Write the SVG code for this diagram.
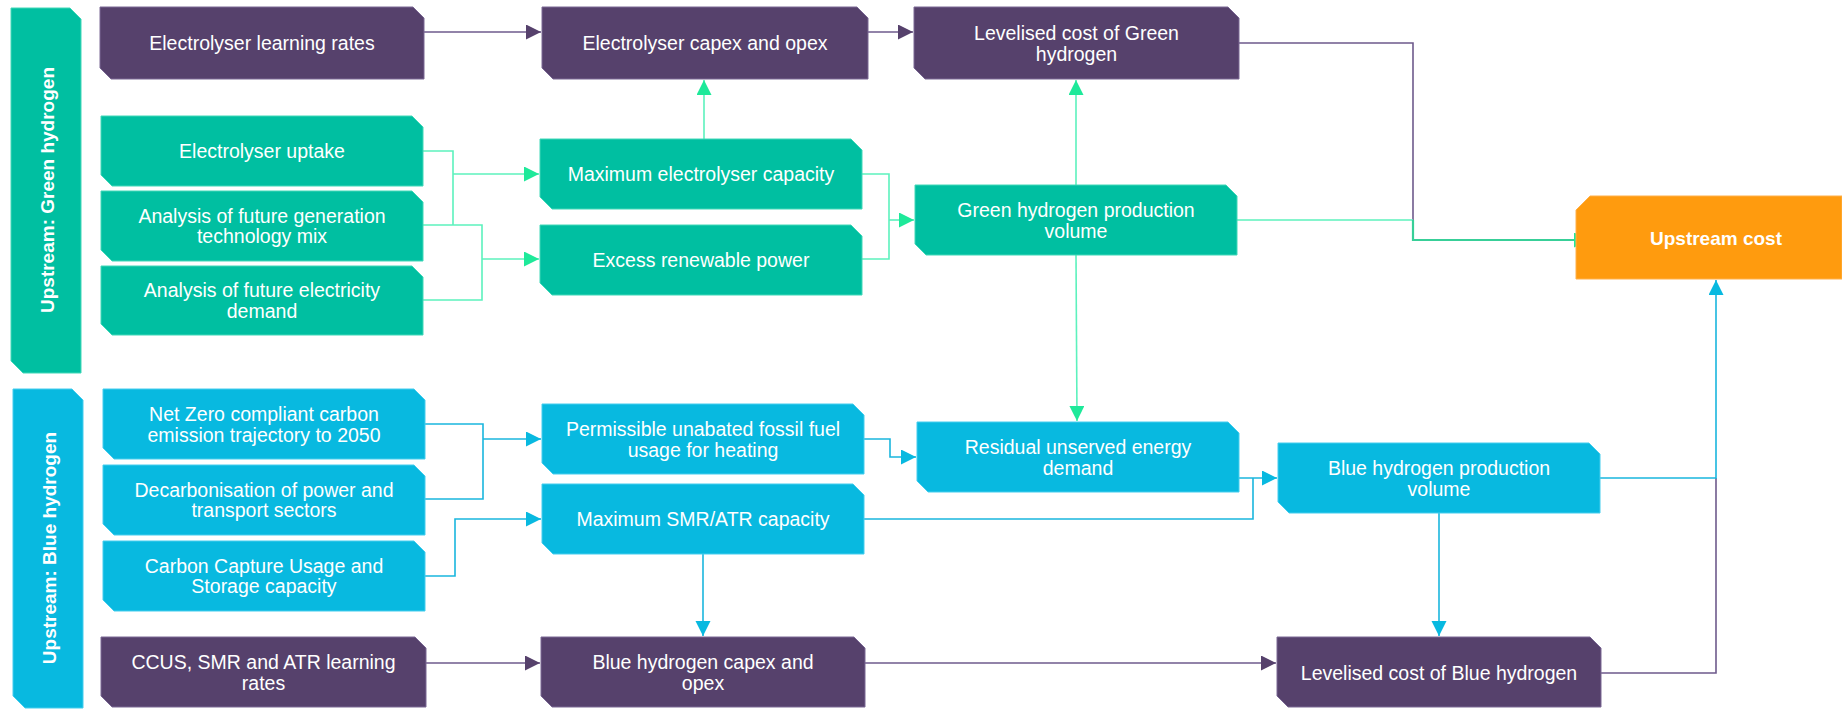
<svg xmlns="http://www.w3.org/2000/svg" width="1842" height="709" viewBox="0 0 1842 709">
<style>
.p{fill:#56416c;stroke:#7a6894;stroke-width:1}
.g{fill:#00bfa1;stroke:#40d8b8;stroke-width:1}
.b{fill:#08b9e0;stroke:#45cdee;stroke-width:1}
.o{fill:#ff9b0e;stroke:#ffb04a;stroke-width:1}
.t{font-family:"Liberation Sans",Arial,sans-serif;font-size:19.5px;fill:#ffffff;text-anchor:middle}
.tb{font-family:"Liberation Sans",Arial,sans-serif;font-size:19px;font-weight:bold;fill:#ffffff;text-anchor:middle}
.lp{fill:none;stroke:#6e5a8c;stroke-width:1.6}
.lg{fill:none;stroke:#5cf2bd;stroke-width:1.6}
.lg2{fill:none;stroke:#38cf98;stroke-width:2.2}
.lb{fill:none;stroke:#1ab6de;stroke-width:1.6}
</style>
<defs>
<marker id="ap" markerUnits="userSpaceOnUse" markerWidth="16" markerHeight="16" refX="15" refY="7.5" orient="auto"><path d="M0,0 L15,7.5 L0,15 Z" fill="#56416c"/></marker>
<marker id="ag" markerUnits="userSpaceOnUse" markerWidth="16" markerHeight="16" refX="15" refY="7.5" orient="auto"><path d="M0,0 L15,7.5 L0,15 Z" fill="#1ee99a"/></marker>
<marker id="ab" markerUnits="userSpaceOnUse" markerWidth="16" markerHeight="16" refX="15" refY="7.5" orient="auto"><path d="M0,0 L15,7.5 L0,15 Z" fill="#08b9e0"/></marker>
</defs>
<g id="connectors">
<path class="lp" d="M424,32 H541" marker-end="url(#ap)"/>
<path class="lp" d="M868,32 H913" marker-end="url(#ap)"/>
<path class="lp" d="M1239,43 H1413 V220"/>
<path class="lp" d="M426,663 H540" marker-end="url(#ap)"/>
<path class="lp" d="M865,663 H1276" marker-end="url(#ap)"/>
<path class="lp" d="M1601,673 H1716 V478"/>
<path class="lg" d="M423,151 H453 V225"/>
<path class="lg" d="M423,225 H482 V300 H423"/>
<path class="lg" d="M453,174 H539" marker-end="url(#ag)"/>
<path class="lg" d="M482,259 H539" marker-end="url(#ag)"/>
<path class="lg" d="M704,139 V80" marker-end="url(#ag)"/>
<path class="lg" d="M862,174 H889 V259 H862"/>
<path class="lg" d="M889,220 H914" marker-end="url(#ag)"/>
<path class="lg" d="M1076,185 V80" marker-end="url(#ag)"/>
<path class="lg" d="M1076,255 L1077,421" marker-end="url(#ag)"/>
<path class="lg" d="M1237,220 H1413"/>
<path class="lg2" d="M1413,220 V240 H1589" marker-end="url(#ag)"/>
<path class="lb" d="M425,424 H483 V499 H425"/>
<path class="lb" d="M483,439 H541" marker-end="url(#ab)"/>
<path class="lb" d="M425,576 H455 V519 H541" marker-end="url(#ab)"/>
<path class="lb" d="M864,439 H890 V457 H916" marker-end="url(#ab)"/>
<path class="lb" d="M864,519 H1253 V478"/>
<path class="lb" d="M1239,478 H1277" marker-end="url(#ab)"/>
<path class="lb" d="M703,554 V636" marker-end="url(#ab)"/>
<path class="lb" d="M1600,478 H1716 V280" marker-end="url(#ab)"/>
<path class="lb" d="M1439,513 V636" marker-end="url(#ab)"/>
</g>
<g id="band-green">
<path class="g" d="M11,8 H70 L81,19 V373 H23 L11,361 Z"/>
<text class="tb" transform="translate(54,190) rotate(-90)">Upstream: Green hydrogen</text>
</g>
<g id="band-blue">
<path class="b" d="M13,389 H72 L83,400 V708 H25 L13,696 Z"/>
<text class="tb" transform="translate(56,548) rotate(-90)">Upstream: Blue hydrogen</text>
</g>
<g id="n-learnrates">
<path class="p" d="M100,7 H413 L424,18 V79 H111 L100,68 Z"/>
<text class="t" x="262" y="50">Electrolyser learning rates</text>
</g>
<g id="n-capex">
<path class="p" d="M542,7 H857 L868,18 V79 H553 L542,68 Z"/>
<text class="t" x="705" y="50">Electrolyser capex and opex</text>
</g>
<g id="n-lcoe-green">
<path class="p" d="M914,7 H1228 L1239,18 V79 H925 L914,68 Z"/>
<text class="t" x="1076.5" y="39.5">Levelised cost of Green</text>
<text class="t" x="1076.5" y="60.5">hydrogen</text>
</g>
<g id="n-uptake">
<path class="g" d="M101,116 H412 L423,127 V186 H112 L101,175 Z"/>
<text class="t" x="262" y="158">Electrolyser uptake</text>
</g>
<g id="n-genmix">
<path class="g" d="M101,191 H412 L423,202 V261 H112 L101,250 Z"/>
<text class="t" x="262" y="222.5">Analysis of future generation</text>
<text class="t" x="262" y="243">technology mix</text>
</g>
<g id="n-demand">
<path class="g" d="M101,266 H412 L423,277 V335 H112 L101,324 Z"/>
<text class="t" x="262" y="297">Analysis of future electricity</text>
<text class="t" x="262" y="317.5">demand</text>
</g>
<g id="n-maxelec">
<path class="g" d="M540,139 H851 L862,150 V209 H552 L540,197 Z"/>
<text class="t" x="701" y="181">Maximum electrolyser capacity</text>
</g>
<g id="n-excess">
<path class="g" d="M540,225 H851 L862,236 V295 H552 L540,283 Z"/>
<text class="t" x="701" y="267">Excess renewable power</text>
</g>
<g id="n-greenvol">
<path class="g" d="M915,185 H1226 L1237,196 V255 H926 L915,244 Z"/>
<text class="t" x="1076" y="216.5">Green hydrogen production</text>
<text class="t" x="1076" y="237.5">volume</text>
</g>
<g id="n-upstream">
<path class="o" d="M1576,210 L1590,196 H1842 V279 H1576 Z"/>
<text class="tb" x="1716" y="245">Upstream cost</text>
</g>
<g id="n-netzero">
<path class="b" d="M103,389 H414 L425,400 V459 H114 L103,448 Z"/>
<text class="t" x="264" y="421">Net Zero compliant carbon</text>
<text class="t" x="264" y="441.5">emission trajectory to 2050</text>
</g>
<g id="n-decarb">
<path class="b" d="M103,465 H414 L425,476 V535 H114 L103,524 Z"/>
<text class="t" x="264" y="496.5">Decarbonisation of power and</text>
<text class="t" x="264" y="517">transport sectors</text>
</g>
<g id="n-ccuscap">
<path class="b" d="M103,541 H414 L425,552 V611 H114 L103,600 Z"/>
<text class="t" x="264" y="572.5">Carbon Capture Usage and</text>
<text class="t" x="264" y="593">Storage capacity</text>
</g>
<g id="n-permissible">
<path class="b" d="M542,404 H853 L864,415 V474 H553 L542,463 Z"/>
<text class="t" x="703" y="435.5">Permissible unabated fossil fuel</text>
<text class="t" x="703" y="456.5">usage for heating</text>
</g>
<g id="n-maxsmr">
<path class="b" d="M542,484 H853 L864,495 V554 H553 L542,543 Z"/>
<text class="t" x="703" y="526">Maximum SMR/ATR capacity</text>
</g>
<g id="n-residual">
<path class="b" d="M917,422 H1228 L1239,433 V492 H928 L917,481 Z"/>
<text class="t" x="1078" y="453.5">Residual unserved energy</text>
<text class="t" x="1078" y="474.5">demand</text>
</g>
<g id="n-bluevol">
<path class="b" d="M1278,443 H1589 L1600,454 V513 H1289 L1278,502 Z"/>
<text class="t" x="1439" y="474.5">Blue hydrogen production</text>
<text class="t" x="1439" y="495.5">volume</text>
</g>
<g id="n-ccuslearn">
<path class="p" d="M101,637 H415 L426,648 V707 H112 L101,696 Z"/>
<text class="t" x="263.5" y="669">CCUS, SMR and ATR learning</text>
<text class="t" x="263.5" y="690">rates</text>
</g>
<g id="n-bluecapex">
<path class="p" d="M541,637 H854 L865,648 V707 H552 L541,696 Z"/>
<text class="t" x="703" y="669">Blue hydrogen capex and</text>
<text class="t" x="703" y="690">opex</text>
</g>
<g id="n-lcoe-blue">
<path class="p" d="M1277,637 H1590 L1601,648 V707 H1288 L1277,696 Z"/>
<text class="t" x="1439" y="680">Levelised cost of Blue hydrogen</text>
</g>
</svg>
